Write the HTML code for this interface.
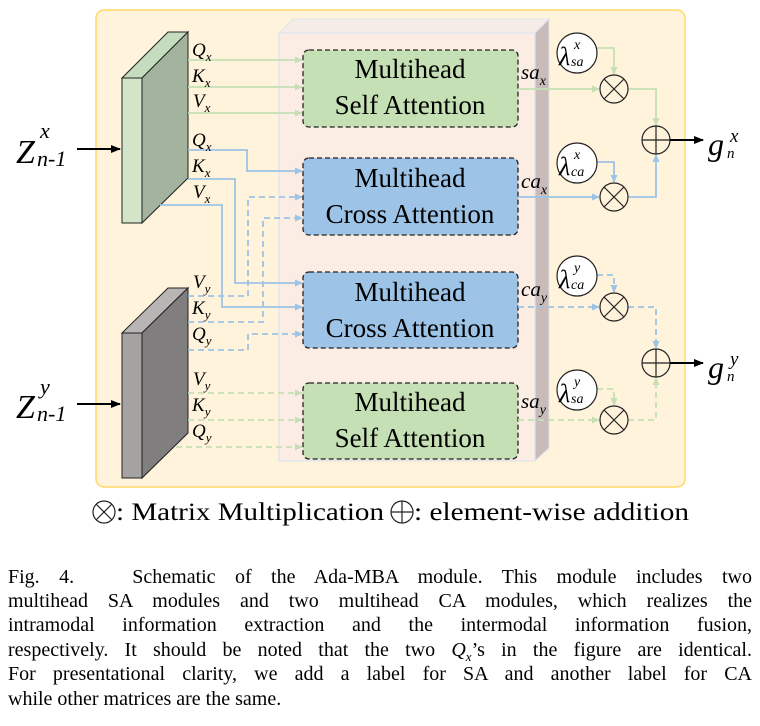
<!DOCTYPE html>
<html><head><meta charset="utf-8"><style>
body{margin:0;background:#fff;width:760px;height:726px;position:relative;overflow:hidden;font-family:"Liberation Serif","DejaVu Serif",serif;}
svg{position:absolute;left:0;top:0;font-family:"Liberation Serif","DejaVu Serif",serif;}
.cap{position:absolute;left:8px;width:744px;font-size:20px;line-height:24px;text-align:justify;text-align-last:justify;white-space:nowrap;}
</style></head><body>
<svg width="760" height="530" viewBox="0 0 760 530">
<defs>
<marker id="ag" markerWidth="8" markerHeight="8" refX="7" refY="4" orient="auto" markerUnits="userSpaceOnUse"><path d="M0,0.5 L8,4 L0,7.5z" fill="#c5e0b4"/></marker>
<marker id="ab" markerWidth="8" markerHeight="8" refX="7" refY="4" orient="auto" markerUnits="userSpaceOnUse"><path d="M0,0.5 L8,4 L0,7.5z" fill="#9dc3e6"/></marker>
<marker id="ak" markerWidth="10" markerHeight="10" refX="9" refY="5" orient="auto" markerUnits="userSpaceOnUse"><path d="M0,1 L10,5 L0,9z" fill="#000"/></marker>
</defs>
<rect x="96" y="10" width="589" height="477" rx="8" fill="#fff3dc" stroke="#ffd966" stroke-width="1.5"/>
<polygon points="279,33 293,19 549,19 535,33" fill="#f5ece8" stroke="#dde4ee" stroke-width="1"/>
<polygon points="535,33 549,19 549,448 535,461" fill="#c9bcb8" stroke="#dde4ee" stroke-width="1"/>
<rect x="279" y="33" width="256" height="428" fill="#fbece4" stroke="#dde4ee" stroke-width="1.2"/>
<polygon points="122,78 168,32 188,32 142,78" fill="#c5dcbf" stroke="#222" stroke-width="1"/>
<polygon points="142,78 188,32 188,178 142,223" fill="#a3b39e" stroke="#222" stroke-width="1"/>
<rect x="122" y="78" width="20" height="145" fill="#d3e5c9" stroke="#222" stroke-width="1"/>
<polygon points="122,333 168,288 188,288 142,333" fill="#b8b5b5" stroke="#222" stroke-width="1"/>
<polygon points="142,333 188,288 188,433 142,478" fill="#807e7e" stroke="#222" stroke-width="1"/>
<rect x="122" y="333" width="20" height="145" fill="#a5a2a2" stroke="#222" stroke-width="1"/>
<line x1="77" y1="149" x2="120" y2="149" stroke="#000" stroke-width="2" marker-end="url(#ak)"/>
<line x1="77" y1="404" x2="120" y2="404" stroke="#000" stroke-width="2" marker-end="url(#ak)"/>
<text x="16" y="163" font-size="34" font-style="italic">Z</text><text x="40" y="138" font-size="22" font-style="italic">x</text><text x="37" y="166" font-size="22" font-style="italic">n-1</text>
<text x="16" y="418" font-size="34" font-style="italic">Z</text><text x="40" y="394" font-size="22" font-style="italic">y</text><text x="37" y="421" font-size="22" font-style="italic">n-1</text>
<g stroke="#c5e0b4" stroke-width="1.8" fill="none">
<line x1="188" y1="60" x2="302" y2="60" marker-end="url(#ag)"/>
<line x1="188" y1="87" x2="302" y2="87" marker-end="url(#ag)"/>
<line x1="188" y1="113" x2="302" y2="113" marker-end="url(#ag)"/>
</g>
<g stroke="#c5e0b4" stroke-width="1.8" fill="none" stroke-dasharray="6,4">
<line x1="188" y1="393" x2="302" y2="393" marker-end="url(#ag)"/>
<line x1="188" y1="420" x2="302" y2="420" marker-end="url(#ag)"/>
<line x1="176" y1="447" x2="302" y2="447" marker-end="url(#ag)"/>
</g>
<g stroke="#9dc3e6" stroke-width="1.8" fill="none">
<polyline points="188,150 247,150 247,171 302,171" marker-end="url(#ab)"/>
<polyline points="188,179 235,179 235,283 302,283" marker-end="url(#ab)"/>
<polyline points="160,205 222,205 222,307 302,307" marker-end="url(#ab)"/>
</g>
<g stroke="#9dc3e6" stroke-width="1.8" fill="none" stroke-dasharray="6,4">
<polyline points="188,296 248,296 248,197 302,197" marker-end="url(#ab)"/>
<polyline points="188,322 263,322 263,218 302,218" marker-end="url(#ab)"/>
<polyline points="188,350 248,350 248,334 302,334" marker-end="url(#ab)"/>
</g>
<g font-size="19" font-style="italic">
<text x="192" y="56">Q<tspan font-size="13" dy="5">x</tspan></text>
<text x="192" y="82">K<tspan font-size="13" dy="5">x</tspan></text>
<text x="193" y="107">V<tspan font-size="13" dy="5">x</tspan></text>
<text x="192" y="146">Q<tspan font-size="13" dy="5">x</tspan></text>
<text x="192" y="172">K<tspan font-size="13" dy="5">x</tspan></text>
<text x="193" y="198">V<tspan font-size="13" dy="5">x</tspan></text>
<text x="193" y="288">V<tspan font-size="13" dy="5">y</tspan></text>
<text x="192" y="314">K<tspan font-size="13" dy="5">y</tspan></text>
<text x="192" y="340">Q<tspan font-size="13" dy="5">y</tspan></text>
<text x="193" y="385">V<tspan font-size="13" dy="5">y</tspan></text>
<text x="192" y="411">K<tspan font-size="13" dy="5">y</tspan></text>
<text x="192" y="437">Q<tspan font-size="13" dy="5">y</tspan></text>
</g>
<g stroke="#222" stroke-width="1.3" stroke-dasharray="5,3">
<rect x="303" y="50" width="215" height="77" rx="6" fill="#c5e0b4"/>
<rect x="303" y="158" width="215" height="77" rx="6" fill="#9dc3e6"/>
<rect x="303" y="272" width="215" height="76" rx="6" fill="#9dc3e6"/>
<rect x="303" y="383" width="215" height="76" rx="6" fill="#c5e0b4"/>
</g>
<g font-size="27" text-anchor="middle">
<text x="410" y="78">Multihead</text><text x="410" y="114">Self Attention</text>
<text x="410" y="187">Multihead</text><text x="410" y="223">Cross Attention</text>
<text x="410" y="301">Multihead</text><text x="410" y="337">Cross Attention</text>
<text x="410" y="411">Multihead</text><text x="410" y="447">Self Attention</text>
</g>
<g font-size="21" font-style="italic">
<text x="521" y="79">sa<tspan font-size="14" dy="6">x</tspan></text>
<text x="521" y="188">ca<tspan font-size="14" dy="6">x</tspan></text>
<text x="521" y="296">ca<tspan font-size="14" dy="6">y</tspan></text>
<text x="521" y="408">sa<tspan font-size="14" dy="6">y</tspan></text>
</g>
<g stroke="#c5e0b4" stroke-width="1.8" fill="none">
<line x1="518" y1="89" x2="599" y2="89" marker-end="url(#ag)"/>
<polyline points="597,48 614,48 614,74" marker-end="url(#ag)"/>
<polyline points="628,89 656,89 656,125" marker-end="url(#ag)"/>
</g>
<g stroke="#9dc3e6" stroke-width="1.8" fill="none">
<line x1="518" y1="197" x2="599" y2="197" marker-end="url(#ab)"/>
<polyline points="597,162 614,162 614,182" marker-end="url(#ab)"/>
<polyline points="628,197 656,197 656,155" marker-end="url(#ab)"/>
</g>
<g stroke="#9dc3e6" stroke-width="1.8" fill="none" stroke-dasharray="6,4">
<line x1="518" y1="307" x2="599" y2="307" marker-end="url(#ab)"/>
<polyline points="597,275 614,275 614,292" marker-end="url(#ab)"/>
<polyline points="628,307 656,307 656,348" marker-end="url(#ab)"/>
</g>
<g stroke="#c5e0b4" stroke-width="1.8" fill="none" stroke-dasharray="6,4">
<line x1="518" y1="420" x2="599" y2="420" marker-end="url(#ag)"/>
<polyline points="597,389 614,389 614,405" marker-end="url(#ag)"/>
<polyline points="628,420 656,420 656,378" marker-end="url(#ag)"/>
</g>
<g fill="#fff" stroke="#222" stroke-width="1.2">
<circle cx="577" cy="53" r="20"/><circle cx="577" cy="163" r="20"/>
<circle cx="577" cy="276" r="20"/><circle cx="577" cy="390" r="20"/>
</g>
<g font-style="italic">
<text x="559" y="65" font-size="26">λ</text><text x="574" y="49" font-size="14">x</text><text x="571" y="66" font-size="14">sa</text>
<text x="559" y="175" font-size="26">λ</text><text x="574" y="159" font-size="14">x</text><text x="571" y="176" font-size="14">ca</text>
<text x="559" y="288" font-size="26">λ</text><text x="574" y="272" font-size="14">y</text><text x="571" y="289" font-size="14">ca</text>
<text x="559" y="402" font-size="26">λ</text><text x="574" y="386" font-size="14">y</text><text x="571" y="403" font-size="14">sa</text>
</g>
<g fill="none" stroke="#222" stroke-width="1.2">
<g transform="translate(614,89)"><circle r="14" fill="#fff3dc"/><path d="M-10,-10L10,10M-10,10L10,-10"/></g>
<g transform="translate(614,197)"><circle r="14" fill="#fff3dc"/><path d="M-10,-10L10,10M-10,10L10,-10"/></g>
<g transform="translate(614,307)"><circle r="14" fill="#fff3dc"/><path d="M-10,-10L10,10M-10,10L10,-10"/></g>
<g transform="translate(614,420)"><circle r="14" fill="#fff3dc"/><path d="M-10,-10L10,10M-10,10L10,-10"/></g>
<g transform="translate(656,140)"><circle r="14" fill="#fff3dc"/><path d="M-14,0L14,0M0,-14L0,14"/></g>
<g transform="translate(656,363)"><circle r="14" fill="#fff3dc"/><path d="M-14,0L14,0M0,-14L0,14"/></g>
</g>
<line x1="670" y1="140" x2="703" y2="140" stroke="#000" stroke-width="2" marker-end="url(#ak)"/>
<line x1="670" y1="363" x2="703" y2="363" stroke="#000" stroke-width="2" marker-end="url(#ak)"/>
<text x="708" y="155" font-size="32" font-style="italic">g</text><text x="730" y="142" font-size="19" font-style="italic">x</text><text x="727" y="158" font-size="15" font-style="italic">n</text>
<text x="708" y="378" font-size="32" font-style="italic">g</text><text x="730" y="365" font-size="19" font-style="italic">y</text><text x="727" y="381" font-size="15" font-style="italic">n</text>
<g fill="none" stroke="#222" stroke-width="1.2">
<circle cx="104" cy="512" r="11"/><path d="M96,504L112,520M96,520L112,504"/>
<circle cx="402" cy="512" r="11"/><path d="M391,512L413,512M402,501L402,523"/>
</g>
<text x="116" y="520" font-size="25" textLength="268" lengthAdjust="spacingAndGlyphs">: Matrix Multiplication</text>
<text x="414" y="520" font-size="25" textLength="275" lengthAdjust="spacingAndGlyphs">: element-wise addition</text>
</svg>
<div class="cap" style="top:565px">Fig. 4.&nbsp;&nbsp;&nbsp;Schematic of the Ada-MBA module. This module includes two</div>
<div class="cap" style="top:589px">multihead SA modules and two multihead CA modules, which realizes the</div>
<div class="cap" style="top:613px">intramodal information extraction and the intermodal information fusion,</div>
<div class="cap" style="top:638px">respectively. It should be noted that the two <i>Q<sub style="font-size:13px">x</sub></i>’s in the figure are identical.</div>
<div class="cap" style="top:662px">For presentational clarity, we add a label for SA and another label for CA</div>
<div class="cap" style="top:687px;text-align-last:left">while other matrices are the same.</div>
</body></html>
